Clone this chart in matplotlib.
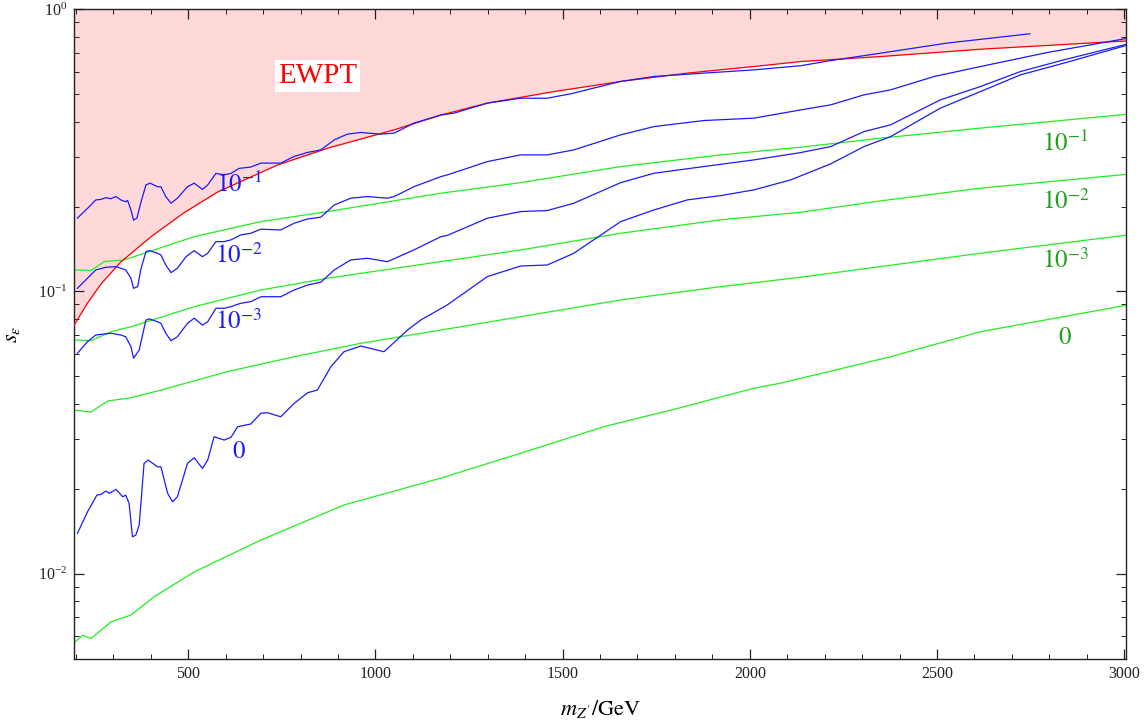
import numpy as np
import matplotlib.pyplot as plt
from matplotlib.ticker import MultipleLocator, LogLocator, NullFormatter

plt.rcParams['font.family'] = ['Liberation Serif', 'DejaVu Serif']
plt.rcParams['mathtext.fontset'] = 'stix'

# EWPT exclusion boundary (shaded above)
m_ewpt = [192, 231, 267, 320, 400, 488, 579, 739, 873, 1050, 1175, 1299, 1477, 1655,
          1833, 2011, 2136, 2349, 2616, 3011]
s_ewpt = [0.0748, 0.0910, 0.1063, 0.1272, 0.1561, 0.1899, 0.2253, 0.2809, 0.322, 0.374,
          0.422, 0.465, 0.511, 0.555, 0.594, 0.627, 0.653, 0.680, 0.722, 0.773]

# blue curves
m_b1 = [204, 231, 253, 267, 280, 293, 307, 320, 333, 338, 347, 354, 363, 373, 387, 398,
        418, 427, 440, 454, 471, 498, 516, 538, 552, 574, 596, 614, 636, 667, 694, 747,
        783, 819, 854, 890, 925, 961, 1014, 1050, 1103, 1175, 1210, 1299, 1388, 1459,
        1522, 1655, 1744, 1877, 2011, 2136, 2216, 2349, 2527, 2748]
s_b1 = [0.182, 0.197, 0.211, 0.212, 0.215, 0.213, 0.217, 0.211, 0.208, 0.210, 0.1945,
        0.179, 0.182, 0.2055, 0.2385, 0.242, 0.235, 0.235, 0.217, 0.2055, 0.214, 0.235,
        0.242, 0.230, 0.2385, 0.262, 0.259, 0.262, 0.273, 0.276, 0.285, 0.285, 0.301,
        0.311, 0.3175, 0.3445, 0.361, 0.366, 0.361, 0.364, 0.395, 0.422, 0.4285, 0.465,
        0.484, 0.484, 0.502, 0.555, 0.578, 0.594, 0.610, 0.631, 0.658, 0.699, 0.759, 0.819]

m_b2 = [204, 231, 253, 280, 307, 320, 333, 347, 354, 365, 373, 387, 396, 418, 427, 440,
        454, 471, 494, 516, 538, 552, 574, 596, 614, 640, 667, 694, 747, 783, 819, 854,
        890, 934, 979, 1032, 1050, 1103, 1175, 1192, 1299, 1388, 1459, 1530, 1655, 1744,
        1877, 2011, 2136, 2216, 2305, 2376, 2492, 2616, 2794, 3011]
s_b2 = [0.1026, 0.1114, 0.1192, 0.1218, 0.1224, 0.1208, 0.1192, 0.1114, 0.1026, 0.1040,
        0.1192, 0.1384, 0.1395, 0.1366, 0.1347, 0.1241, 0.1166, 0.1208, 0.1328, 0.1395,
        0.1328, 0.1366, 0.1502, 0.1502, 0.1523, 0.1586, 0.1608, 0.1662, 0.1652, 0.1745,
        0.1807, 0.1833, 0.2026, 0.2140, 0.2169, 0.2140, 0.2169, 0.2352, 0.2553, 0.2588,
        0.2886, 0.3048, 0.3048, 0.3175, 0.3589, 0.3840, 0.4034, 0.4114, 0.4400, 0.4585,
        0.4975, 0.5182, 0.5777, 0.6268, 0.7026, 0.7904]

m_b3 = [204, 231, 253, 293, 320, 333, 347, 354, 369, 387, 396, 418, 427, 440, 454, 471,
        498, 516, 538, 552, 574, 596, 614, 640, 667, 694, 747, 783, 819, 854, 890, 934,
        979, 1032, 1103, 1175, 1192, 1299, 1388, 1459, 1530, 1655, 1744, 1877, 2011, 2136,
        2216, 2305, 2376, 2509, 2616, 2723, 2839, 3011]
s_b3 = [0.0604, 0.0664, 0.0701, 0.0711, 0.0701, 0.0691, 0.0637, 0.0580, 0.0620, 0.0792,
        0.0799, 0.0781, 0.0771, 0.0711, 0.0669, 0.0691, 0.0771, 0.0804, 0.0760, 0.0781,
        0.0872, 0.0872, 0.0883, 0.0908, 0.0920, 0.0958, 0.0958, 0.1012, 0.1054, 0.1078,
        0.1192, 0.1293, 0.1311, 0.1275, 0.1404, 0.1564, 0.158, 0.1818, 0.1919, 0.1935,
        0.2055, 0.2430, 0.2624, 0.2771, 0.2926, 0.3106, 0.3262, 0.3687, 0.3895, 0.4776,
        0.5324, 0.6018, 0.6622, 0.7545]

m_b0 = [204, 231, 256, 267, 280, 289, 307, 325, 333, 342, 351, 360, 369, 382, 393, 418,
        427, 445, 458, 471, 498, 516, 538, 552, 569, 596, 614, 632, 667, 694, 712, 747,
        783, 819, 845, 881, 916, 961, 1023, 1086, 1121, 1192, 1299, 1388, 1459, 1530,
        1655, 1744, 1833, 1922, 2011, 2109, 2216, 2305, 2376, 2509, 2616, 2723, 2839, 3011]
s_b0 = [0.01389, 0.01656, 0.01898, 0.01909, 0.01962, 0.01925, 0.01989, 0.01872, 0.01898,
        0.01774, 0.01351, 0.01369, 0.01486, 0.02459, 0.02526, 0.02391, 0.02391, 0.01925,
        0.01797, 0.01872, 0.02459, 0.02574, 0.0236, 0.02526, 0.03055, 0.02974, 0.03041,
        0.03316, 0.0339, 0.037, 0.03716, 0.03597, 0.04013, 0.04377, 0.04474, 0.05411,
        0.06115, 0.06406, 0.06115, 0.07303, 0.0792, 0.0896, 0.1129, 0.1231, 0.1241,
        0.1366, 0.1768, 0.1945, 0.2111, 0.2186, 0.2291, 0.2485, 0.2833, 0.3262, 0.3538,
        0.4464, 0.5110, 0.5857, 0.6446, 0.7483]

# green curves
m_g1 = [195, 240, 276, 329, 516, 694, 872, 1175, 1388, 1655, 1922, 2136, 2349, 2616, 3011]
s_g1 = [0.1192, 0.1186, 0.1276, 0.1294, 0.1564, 0.1768, 0.1919, 0.2230, 0.2430, 0.2771,
        0.3048, 0.3246, 0.3493, 0.3793, 0.4249]
m_g2 = [195, 240, 294, 347, 516, 694, 872, 1175, 1388, 1655, 1922, 2136, 2349, 2616, 3011]
s_g2 = [0.0673, 0.0669, 0.0720, 0.0750, 0.0883, 0.1012, 0.1114, 0.1276, 0.1403, 0.1608,
        0.1794, 0.1909, 0.2094, 0.2323, 0.2604]
m_g3 = [195, 240, 285, 347, 427, 605, 783, 961, 1175, 1388, 1655, 1922, 2136, 2349, 2616,
        3011]
s_g3 = [0.0380, 0.0374, 0.0409, 0.0420, 0.0447, 0.0520, 0.0587, 0.0655, 0.0730, 0.0814,
        0.0933, 0.104, 0.1123, 0.1225, 0.1366, 0.1586]
m_g0 = [193, 218, 240, 294, 347, 409, 516, 694, 916, 1175, 1388, 1611, 1807, 2011, 2082,
        2376, 2616, 3011]
s_g0 = [0.00565, 0.00605, 0.00589, 0.00675, 0.00713, 0.00828, 0.01014, 0.01315, 0.0175,
        0.0218, 0.0267, 0.0332, 0.0385, 0.0454, 0.0473, 0.0587, 0.0720, 0.0896]

blue_labels = [r'$10^{-1}$', r'$10^{-2}$', r'$10^{-3}$', r'$0$']
blue_label_y = [0.2400, 0.1347, 0.078, 0.027]
green_labels = [r'$10^{-1}$', r'$10^{-2}$', r'$10^{-3}$', r'$0$']
green_label_y = [0.336, 0.2077, 0.129, 0.0684]

fig = plt.figure(figsize=(11.48, 7.21), dpi=100)
ax = fig.add_axes([0.0645, 0.0856, 0.9164, 0.9015])
ax.set_yscale('log')

ax.fill_between(m_ewpt, s_ewpt, 2.0, color='#ffd8da', lw=0, zorder=1)
ax.plot(m_ewpt, s_ewpt, color='red', lw=0.9, zorder=3)

for m, s in [(m_g1, s_g1), (m_g2, s_g2), (m_g3, s_g3), (m_g0, s_g0)]:
    ax.plot(m, s, color='#22ee22', lw=0.9, zorder=2)
for m, s in [(m_b1, s_b1), (m_b2, s_b2), (m_b3, s_b3), (m_b0, s_b0)]:
    ax.plot(m, s, color='#1a1aff', lw=0.9, zorder=4)

for lab, y in zip(blue_labels, blue_label_y):
    ax.text(635, y, lab, color='#1a1aff', fontsize=18, ha='center', va='center', zorder=5)
for lab, y in zip(green_labels, green_label_y):
    ax.text(2843, y, lab, color='#1fa01f', fontsize=18, ha='center', va='center', zorder=5)

ax.text(846, 0.581, 'EWPT', color='red', fontsize=21, ha='center', va='center', zorder=5,
        bbox=dict(facecolor='white', edgecolor='none', pad=2))

ax.set_xlim(195, 3005)
ax.set_ylim(0.00497, 1.0)
ax.xaxis.set_major_locator(MultipleLocator(500))
ax.xaxis.set_minor_locator(MultipleLocator(100))
ax.yaxis.set_major_locator(LogLocator(base=10))
ax.yaxis.set_minor_locator(LogLocator(base=10, subs=np.arange(2, 10)))
ax.yaxis.set_minor_formatter(NullFormatter())
ax.tick_params(which='both', direction='in', top=True, right=True, colors='#222222',
               labelsize=11.5)
ax.tick_params(which='major', length=7, width=0.9, pad=5)
ax.tick_params(which='minor', length=3.8, width=0.7)
for sp in ax.spines.values():
    sp.set_linewidth(1.0)
    sp.set_color('#222222')

ax.set_xlabel(r"$m_{Z^{\prime}}/\mathrm{GeV}$", fontsize=16, labelpad=11)
ax.set_ylabel(r'$s_\epsilon$', fontsize=16, labelpad=11)

fig.savefig('out.png', dpi=100)
